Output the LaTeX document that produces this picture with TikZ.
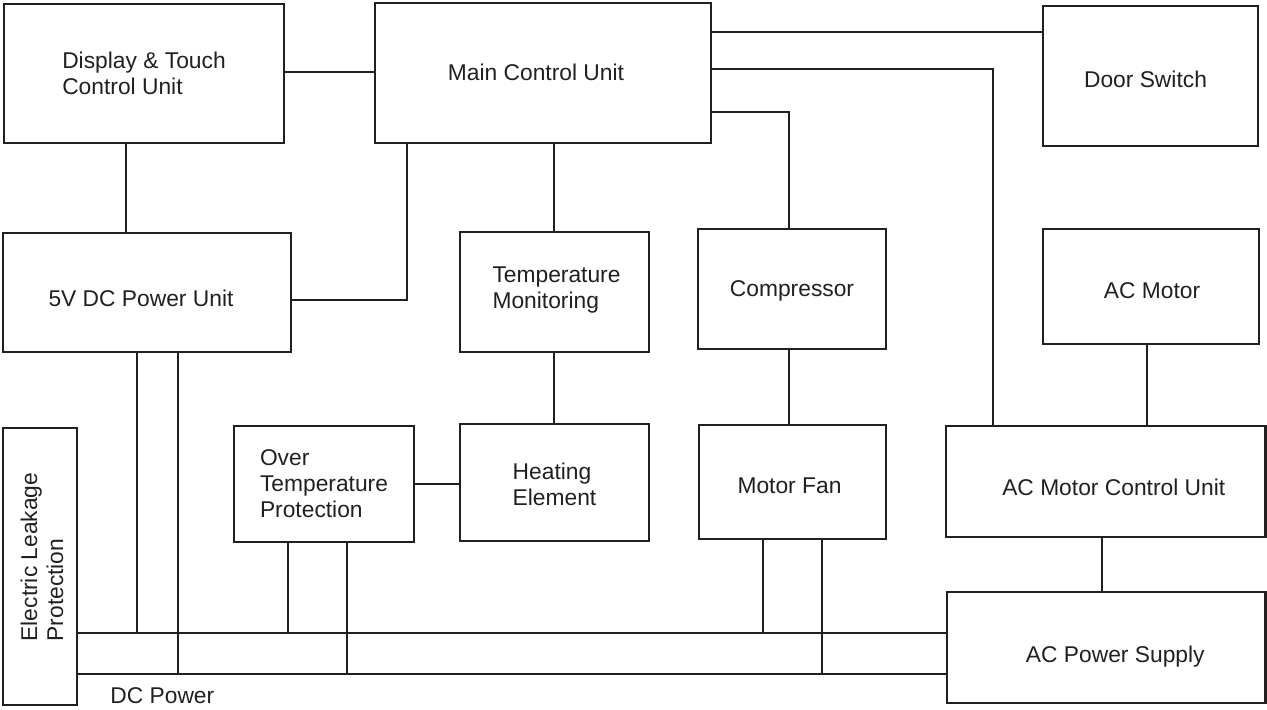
\documentclass[tikz,border=0pt]{standalone}
\usepackage{fontspec}
\setmainfont{Liberation Sans}
\definecolor{ink}{HTML}{231F20}
\begin{document}
\begin{tikzpicture}[x=0.5pt,y=-0.5pt,
  box/.style={draw=ink,line width=1.4pt,inner sep=0pt,text=ink,align=left,
    font=\fontsize{11.4}{13}\selectfont},
  corners/.style n args={4}{minimum width={(#3-#1)*0.5pt},
    minimum height={(#4-#2)*0.5pt}, at={({(#1+#3)/2},{(#2+#4)/2})}},
  txt/.style={text=ink,align=left,inner sep=0pt,font=\fontsize{11.4}{13}\selectfont},
  tl/.style args={#1/#2/#3}{label={[txt,xshift=#1*0.5pt,yshift=-#2*0.5pt]center:#3}},
  wire/.style={draw=ink,line width=1.2pt},
  bus/.style={draw=ink,line width=1.1pt}]
\useasboundingbox (0,0) rectangle (1267,709);
% blocks
\node[box,corners={4}{4}{284}{143}] (disp) {Display \& Touch\\Control Unit};
\node[box,corners={375}{3}{711}{143},tl={-7/-1/Main Control Unit}] (main) {};
\node[box,corners={1043}{6}{1258}{146},tl={-5/3/Door Switch}] (door) {};
\node[box,corners={3}{233}{291}{352},tl={-6/6/5V DC Power Unit}] (dc5) {};
\node[box,corners={460}{232}{649}{352},tl={2/-2/Temperature\\Monitoring}] (temp) {};
\node[box,corners={698}{229}{886}{349},tl={0/2/Compressor}] (comp) {};
\node[box,corners={1043}{229}{1259}{344},tl={1/4/AC Motor}] (acm) {};
\node[box,corners={3}{428}{77}{705}] (elp) {};
\node[txt,rotate=90] (elpt) at (42,557) {Electric Leakage\\Protection};
\node[box,corners={234}{426}{414}{542}] (otp) {Over\\Temperature\\Protection};
\node[box,corners={460}{424}{649}{541},tl={0/2/Heating\\Element}] (heat) {};
\node[box,corners={699}{425}{886}{539},tl={-3/4/Motor Fan}] (fan) {};
\node[box,corners={946}{426}{1265.5}{537},tl={8/6/AC Motor Control Unit}] (acmc) {};
\node[box,corners={947}{592}{1265.5}{703},tl={9/9/AC Power Supply}] (acps) {};
\node[txt,anchor=base west] (dcp) at (110,703) {DC Power};
% helper coordinates
\coordinate (x126) at (126,0);
\coordinate (k1) at (407,300);
\coordinate (k2) at (789,112);
\coordinate (y32) at (0,32);
\coordinate (k4) at (993,69);
\coordinate (x789) at (789,0);
\coordinate (x1147) at (1147,0);
\coordinate (x1102) at (1102,0);
\coordinate (b1) at (0,633);
\coordinate (b2) at (0,674);
\coordinate (x137) at (137,0);
\coordinate (x178) at (178,0);
\coordinate (x288) at (288,0);
\coordinate (x347) at (347,0);
\coordinate (x763) at (763,0);
\coordinate (x822) at (822,0);
\coordinate (y72) at (0,72);
\coordinate (x554) at (554,0);
% connectors
\draw[wire] (disp.east |- y72) -- (main.west |- y72);
\draw[wire] (disp.south -| x126) -- (dc5.north -| x126);
\draw[wire] (main.south -| k1) -- (k1) -- (dc5.east |- k1);
\draw[wire] (main.south -| x554) -- (temp.north -| x554);
\draw[wire] (main.east |- k2) -- (k2) -- (comp.north -| k2);
\draw[wire] (main.east |- y32) -- (door.west |- y32);
\draw[wire] (main.east |- k4) -- (k4) -- (acmc.north -| k4);
\draw[wire] (temp.south -| x554) -- (heat.north -| x554);
\draw[wire] (otp.east) -- (otp.east -| heat.west);
\draw[wire] (comp.south -| x789) -- (fan.north -| x789);
\draw[wire] (acm.south -| x1147) -- (acmc.north -| x1147);
\draw[wire] (acmc.south -| x1102) -- (acps.north -| x1102);
% power buses
\draw[bus] (elp.east |- b1) -- (acps.west |- b1);
\draw[bus] (elp.east |- b2) -- (acps.west |- b2);
\draw[bus] (dc5.south -| x137) -- (b1 -| x137);
\draw[bus] (dc5.south -| x178) -- (b2 -| x178);
\draw[bus] (otp.south -| x288) -- (b1 -| x288);
\draw[bus] (otp.south -| x347) -- (b2 -| x347);
\draw[bus] (fan.south -| x763) -- (b1 -| x763);
\draw[bus] (fan.south -| x822) -- (b2 -| x822);
\end{tikzpicture}
\end{document}
